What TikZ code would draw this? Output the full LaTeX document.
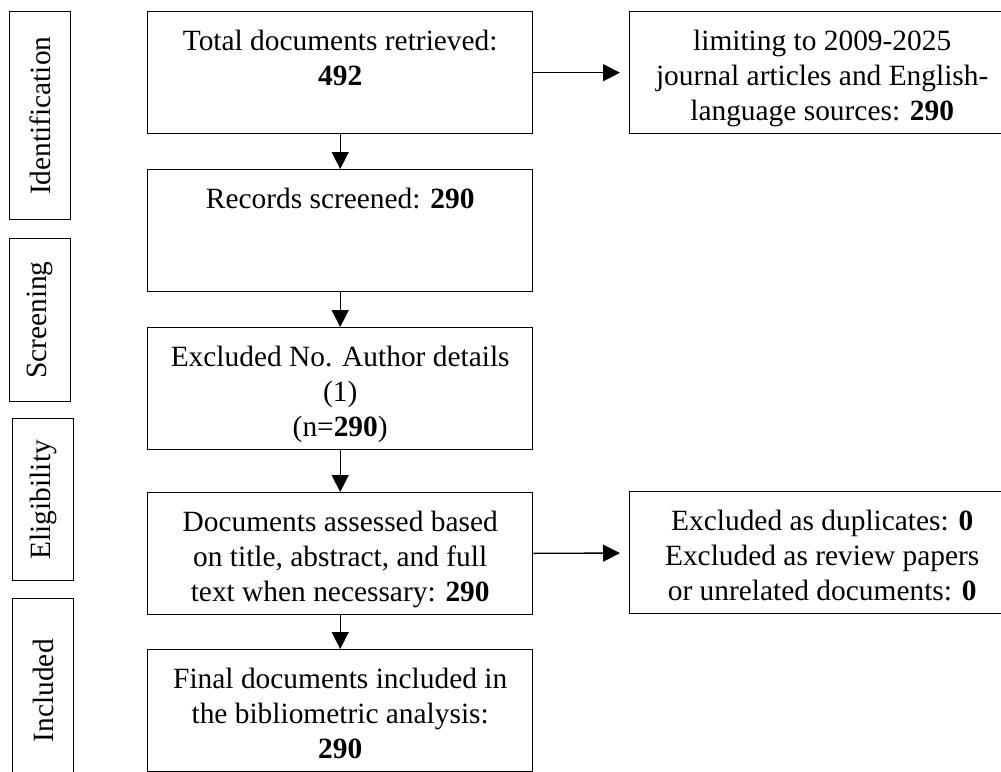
\documentclass[tikz,border=0pt]{standalone}
\usepackage{fontspec}
\setmainfont{Liberation Serif}
\usetikzlibrary{arrows.meta}

\begin{document}
\begin{tikzpicture}[x=0.5pt, y=-0.5pt, line width=.7pt,
	font=\fontsize{14.7}{17.5}\selectfont,
	box/.style={draw, anchor=north west, inner sep=0pt,
		minimum width=192.5pt, minimum height=61pt},
	txt/.style={anchor=north, align=center, inner sep=0pt, yshift=-9.2pt},
	stage/.style={draw, anchor=north west, inner sep=0pt, minimum width=30.5pt},
	flow/.style={-{Triangle[length=8.5pt,width=8.5pt]}},
	side/.style={flow, shorten >=4.5pt}]
		\clip (0,0) rectangle (1001,771);
		
		% Stage boxes
		\node[stage, minimum height=104pt]  (ident) at (9,11)   {};
		\node[stage, minimum height=81.5pt] (scr)   at (9,238)  {};
		\node[stage, minimum height=81pt]   (elig)  at (12,418) {};
		\node[stage, minimum height=92pt]   (incl)  at (12,598) {};
		\foreach \s/\t in {ident/Identification, scr/Screening, elig/Eligibility, incl/Included}{
			\node[rotate=90] (\s-t) at (\s.center) {\t};
		}
		
		% Main boxes
		\node[box, label={[txt]north:Total documents retrieved:\\\textbf{492}}] (retrieved) at (147,11) {};
		\node[box, label={[txt]north:Records screened: \textbf{290}}] (screened) at (147,169) {};
		\node[box, label={[txt]north:Excluded No. Author details\\(1)\\(n=\textbf{290})}] (excluded) at (147,327) {};
		\node[box, label={[txt]north:Documents assessed based\\on title, abstract, and full\\text when necessary: \textbf{290}}] (assessed) at (147,492) {};
		\node[box, label={[txt]north:Final documents included in\\the bibliometric analysis:\\\textbf{290}}] (final) at (147,649) {};
		
		% Side boxes
		\node[box, label={[txt]north:limiting to 2009-2025\\journal articles and English-\\language sources: \textbf{290}}] (limited) at (629,11) {};
		\node[box, label={[txt]north:Excluded as duplicates: \textbf{0}\\Excluded as review papers\\or unrelated documents: \textbf{0}}] (dups) at (629,491) {};
		
		% Draw arrows
		\foreach \a/\b in {retrieved/screened, screened/excluded, excluded/assessed, assessed/final}{
			\draw[flow] (\a) -- (\b);
		}
		\draw[side] (retrieved) -- (limited);
		\draw[side] (assessed) -- (dups);
	\end{tikzpicture}
\end{document}
